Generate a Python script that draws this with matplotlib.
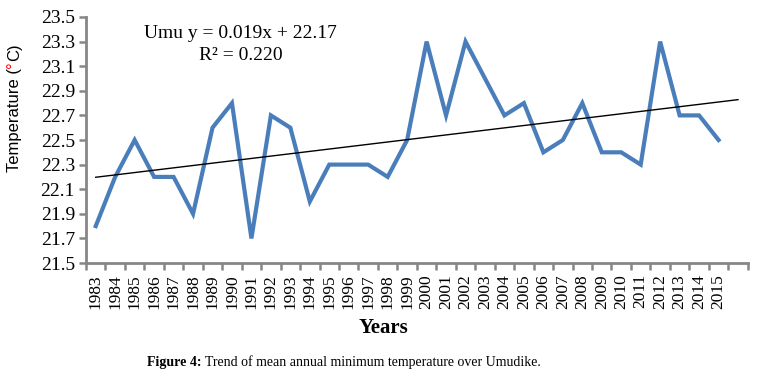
import numpy as np
import matplotlib
matplotlib.use('Agg')
from matplotlib import pyplot as plt

years = list(range(1983, 2016))
temps = [21.8, 22.2, 22.5, 22.2, 22.2, 21.9, 22.6, 22.8, 21.7, 22.7,
         22.6, 22.0, 22.3, 22.3, 22.3, 22.2, 22.5, 23.3, 22.7, 23.3,
         23.0, 22.7, 22.8, 22.4, 22.5, 22.8, 22.4, 22.4, 22.3, 23.3,
         22.7, 22.7, 22.5]
n_cats = 34  # excel axis has one empty slot after 2015
y_ticks = [21.5, 21.7, 21.9, 22.1, 22.3, 22.5, 22.7, 22.9, 23.1, 23.3, 23.5]

serif = ['Liberation Serif', 'DejaVu Serif']
sans = ['Liberation Sans', 'DejaVu Sans']
grey = '#868686'

fig = plt.figure(figsize=(7.63, 3.76), dpi=100)
ax = fig.add_axes([0.1127, 0.3005, 0.8673, 0.6543])

x = np.arange(len(years))
ax.plot(x, temps, color='#4A7EBB', lw=3.0, solid_joinstyle='miter', zorder=3)

# linear trend, excel x runs 1..n
xf = np.arange(1, n_cats + 1)
k, b = np.polyfit(np.arange(1, len(temps) + 1), temps, 1)
ax.plot(xf - 1, k * xf + b, color='black', lw=1.0, zorder=4)

ax.set_xlim(-0.5, n_cats - 0.5)
ax.set_ylim(21.5, 23.5)
ax.set_yticks(y_ticks)
ax.set_yticklabels([f'{v:.1f}' for v in y_ticks], fontfamily=serif, fontsize=14)
ax.set_xticks(x)
ax.set_xticklabels([str(yr) for yr in years], rotation=90, fontfamily=serif,
                   fontsize=12.5)
ax.set_xticks(np.arange(-0.5, n_cats), minor=True)
ax.tick_params(axis='x', which='major', length=0, pad=8)
ax.tick_params(axis='x', which='minor', length=5, width=1.8, color=grey)
ax.tick_params(axis='y', length=5, width=1.8, color=grey, pad=3)

for s in ['top', 'right']:
    ax.spines[s].set_visible(False)
for s in ['left', 'bottom']:
    ax.spines[s].set_color(grey)
    ax.spines[s].set_linewidth(2)

fig.text(0.502, 0.127, 'Years', ha='center', va='center', fontfamily=serif,
         fontsize=15, fontweight='bold')

fig.text(0.315, 0.91, 'Umu y = 0.019x + 22.17', ha='center', va='center',
         fontfamily=serif, fontsize=14)
fig.text(0.315, 0.853, 'R² = 0.220', ha='center', va='center',
         fontfamily=serif, fontsize=14)

# y label in pieces so the degree sign can be red
fig.canvas.draw()
r = fig.canvas.get_renderer()
inv = fig.transFigure.inverted()
ypos = 0.543
for part, col in [('Temperature (', 'black'), ('°', 'red'), ('C)', 'black')]:
    t = fig.text(0.019, ypos, part, rotation=90, ha='left', va='center',
                 rotation_mode='anchor', fontfamily=sans, fontsize=12,
                 color=col)
    bb = t.get_window_extent(r)
    ypos = inv.transform((0, bb.y1))[1]

# caption, bold lead-in followed by plain text
t = fig.text(0.193, 0.037, 'Figure 4:', ha='left', va='center',
             fontfamily=serif, fontsize=10, fontweight='bold')
bb = t.get_window_extent(r)
xpos = inv.transform((bb.x1 + 3, 0))[0]
fig.text(xpos, 0.037, 'Trend of mean annual minimum temperature over Umudike.',
         ha='left', va='center', fontfamily=serif, fontsize=10)

fig.savefig('out.png', dpi=100)
